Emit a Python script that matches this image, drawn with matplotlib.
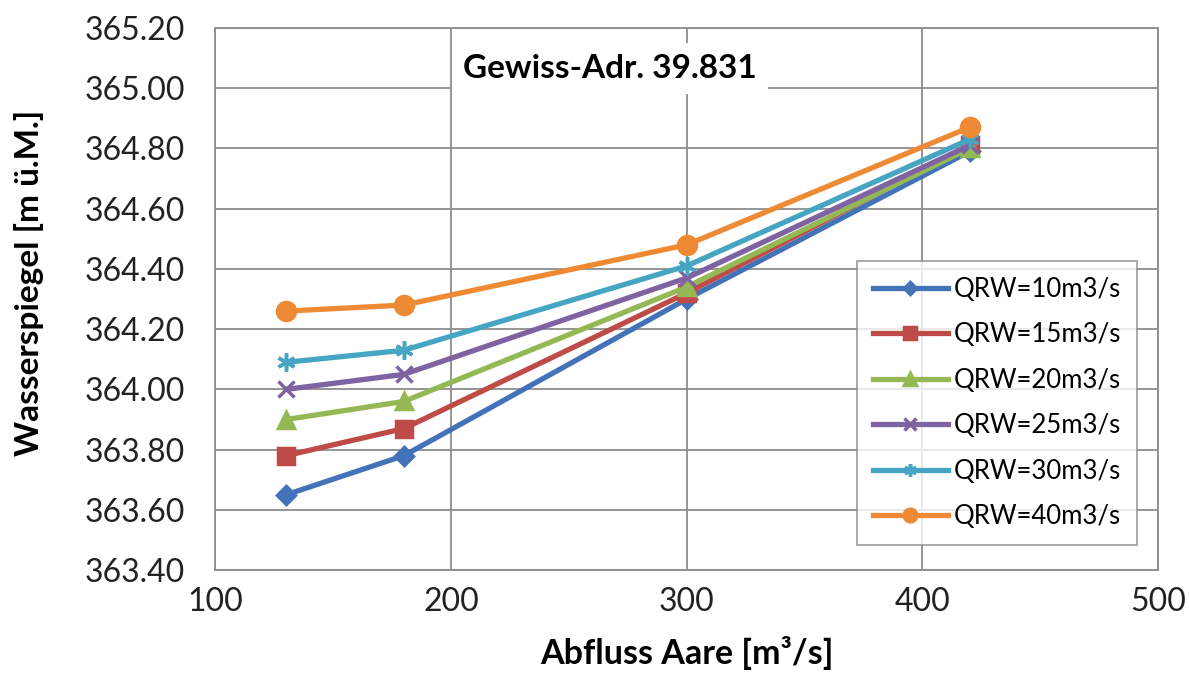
import matplotlib
matplotlib.use("Agg")
import matplotlib.pyplot as plt

plt.rcParams['font.family'] = ['Lato', 'DejaVu Sans']

# discharge Aare [m3/s]
abfluss = [130, 180, 300, 420]

# water level [m ü.M.] per QRW
qrw10 = [363.65, 363.78, 364.30, 364.79]
qrw15 = [363.78, 363.87, 364.32, 364.81]
qrw20 = [363.90, 363.96, 364.34, 364.80]
qrw25 = [364.00, 364.05, 364.37, 364.81]
qrw30 = [364.09, 364.13, 364.41, 364.83]
qrw40 = [364.26, 364.28, 364.48, 364.87]

labels = ['QRW=10m3/s', 'QRW=15m3/s', 'QRW=20m3/s',
          'QRW=25m3/s', 'QRW=30m3/s', 'QRW=40m3/s']
yticks = [363.40, 363.60, 363.80, 364.00, 364.20, 364.40,
          364.60, 364.80, 365.00, 365.20]
xticks = [100, 200, 300, 400, 500]

colors = ['#4372B8', '#BE4B48', '#94B853', '#7E62A1', '#45A5C3', '#EE8A33']
markers = ['D', 's', '^', 'x', (6, 2, 0), 'o']
msizes = [9, 12, 12, 12, 13, 13]

fig = plt.figure(figsize=(11.89, 6.82), dpi=100)
ax = fig.add_axes([0.181, 0.164, 0.793, 0.795])

series = [qrw10, qrw15, qrw20, qrw25, qrw30, qrw40]
for vals, lab, c, m, ms in zip(series, labels, colors, markers, msizes):
    ax.plot(abfluss, vals, color=c, lw=3.8, marker=m, ms=ms,
            mew=2.5, label=lab)

ax.set_xlim(100, 500)
ax.set_ylim(363.40, 365.20)
ax.set_xticks(xticks)
ax.set_yticks(yticks)
ax.set_yticklabels(['%.2f' % v for v in yticks])
ax.grid(True, color='#8c8c8c', lw=1.3)
ax.set_axisbelow(True)
for s in ax.spines.values():
    s.set_color('#8c8c8c')
    s.set_linewidth(1.3)
ax.tick_params(axis='y', length=0, labelsize=23, pad=22, colors='#222222')
ax.tick_params(axis='x', length=0, labelsize=23, pad=12, colors='#222222')

ax.set_xlabel('Abfluss Aare [m³/s]', fontsize=24.5, fontweight='bold', labelpad=14)
ax.set_ylabel('Wasserspiegel [m ü.M.]', fontsize=24, fontweight='bold')
ax.yaxis.set_label_coords(-0.182, 0.53)

ax.text(0.419, 0.926, 'Gewiss-Adr. 39.831', transform=ax.transAxes,
        ha='center', va='center', fontsize=24, fontweight='bold',
        bbox=dict(facecolor='white', edgecolor='none', pad=8))

leg = ax.legend(loc='lower right', bbox_to_anchor=(0.978, 0.046),
                borderaxespad=0, fontsize=18.5, frameon=True, fancybox=False,
                handlelength=2.9, handletextpad=0.25, labelspacing=0.8,
                borderpad=0.62, markerscale=0.7)
leg.get_frame().set_edgecolor('#8c8c8c')
leg.get_frame().set_linewidth(1.3)

fig.savefig('out.png', dpi=100)
